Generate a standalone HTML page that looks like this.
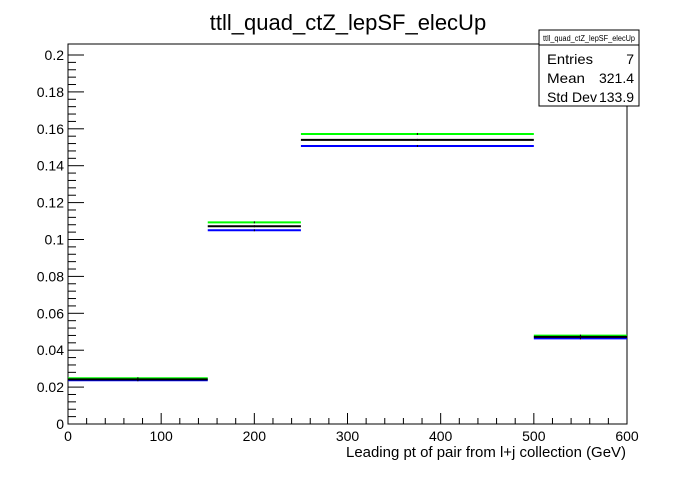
<!DOCTYPE html>
<html><head><meta charset="utf-8"><style>
body{margin:0;background:#fff;font-family:"Liberation Sans",sans-serif}
</style></head><body>
<svg width="696" height="472" xmlns="http://www.w3.org/2000/svg" font-family="Liberation Sans, sans-serif">
<rect width="696" height="472" fill="#fff"/>
<text x="348" y="30" text-anchor="middle" font-size="22">ttll_quad_ctZ_lepSF_elecUp</text>
<rect x="68" y="44" width="559" height="380" fill="none" stroke="#000"/>
<g id="axes"></g>
<g id="series"></g>
<text x="626" y="457" text-anchor="end" font-size="15" textLength="280" lengthAdjust="spacingAndGlyphs">Leading pt of pair from l+j collection (GeV)</text>
<g>
<rect x="539" y="30" width="100" height="76" fill="#fff" stroke="#000"/>
<line x1="539" y1="45" x2="639" y2="45" stroke="#000"/>
<text x="589" y="41" text-anchor="middle" font-size="8" textLength="92" lengthAdjust="spacingAndGlyphs">ttll_quad_ctZ_lepSF_elecUp</text>
<text x="547" y="64" font-size="14" textLength="46" lengthAdjust="spacingAndGlyphs">Entries</text><text x="634" y="64" font-size="14" text-anchor="end">7</text>
<text x="547" y="83" font-size="14" textLength="38" lengthAdjust="spacingAndGlyphs">Mean</text><text x="634" y="83" font-size="14" text-anchor="end" textLength="35" lengthAdjust="spacingAndGlyphs">321.4</text>
<text x="547" y="102" font-size="14" textLength="50" lengthAdjust="spacingAndGlyphs">Std Dev</text><text x="634" y="102" font-size="14" text-anchor="end" textLength="35" lengthAdjust="spacingAndGlyphs">133.9</text>
</g>
</svg>
<script>
const binEdges=[0,150,250,500,600];
const nominal=[0.0242,0.1072,0.1540,0.0472];
const upVar=[0.0248,0.1093,0.1572,0.0479];
const downVar=[0.0237,0.1050,0.1507,0.0464];
const xTicks=[0,100,200,300,400,500,600];
const yTicks=[0,0.02,0.04,0.06,0.08,0.1,0.12,0.14,0.16,0.18,0.2];
const NS="http://www.w3.org/2000/svg";
const X0=68,X1=627,Y0=424,YS=1845;
const xs=v=>X0+(v/600)*(X1-X0);
const ys=v=>Y0-v*YS;
function mk(t,a,p){const e=document.createElementNS(NS,t);for(const k in a)e.setAttribute(k,a[k]);p.appendChild(e);return e;}
const ax=document.getElementById('axes');
for(let i=0;i<=50;i++){const v=i*0.004;if(v>0.2041)break;const y=ys(v);const major=i%5===0;
const l=mk('line',{x1:X0,x2:X0+(major?16:8),y1:y,y2:y,stroke:'#000'},ax);

}
yTicks.forEach(v=>{const t=mk('text',{x:X0-4,y:ys(v)+5,'text-anchor':'end','font-size':14},ax);t.textContent=String(v);

});
for(let v=0;v<=600;v+=20){const x=xs(v);const major=v%100===0;
const l=mk('line',{x1:x,x2:x,y1:Y0,y2:Y0-(major?11:6),stroke:'#000'},ax);

}
xTicks.forEach(v=>{const t=mk('text',{x:xs(v),y:441,'text-anchor':'middle','font-size':14},ax);t.textContent=String(v);

});
const sg=document.getElementById('series');
[[upVar,'#00ff00','up-variation'],[downVar,'#0000ff','down-variation'],[nominal,'#000','nominal']].forEach(([arr,c,n])=>{
arr.forEach((v,i)=>{const l=mk('line',{x1:xs(binEdges[i]),x2:xs(binEdges[i+1]),y1:ys(v),y2:ys(v),stroke:c,'stroke-width':2},sg);


const m=(binEdges[i]+binEdges[i+1])/2;
mk('line',{x1:xs(m),x2:xs(m),y1:ys(v)-1,y2:ys(v)+1,stroke:'#000'},sg);});
});
</script>
</body></html>
